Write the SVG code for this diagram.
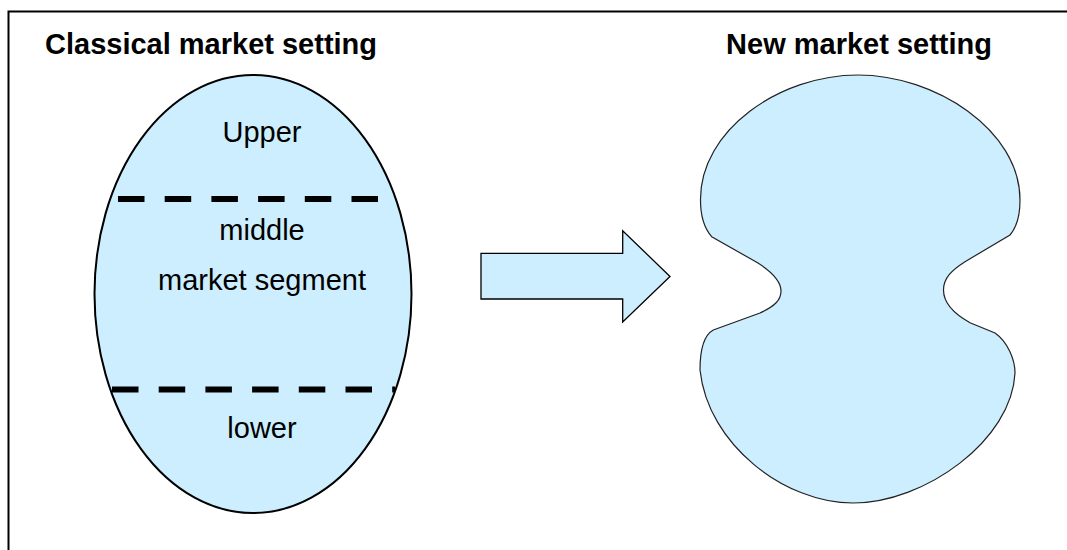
<svg xmlns="http://www.w3.org/2000/svg" width="1067" height="550" viewBox="0 0 1067 550">
<style>
.title{font-family:"Liberation Sans",Arial,sans-serif;font-weight:bold;font-size:29px;fill:#000}
.lbl{font-family:"Liberation Sans",Arial,sans-serif;font-size:29px;fill:#000;text-anchor:middle}
.fill{fill:#CCEEFF}
.dash{stroke:#000;stroke-width:6;stroke-dasharray:26.5 20.2;fill:none}
</style>
<rect x="8.5" y="11.5" width="1070" height="560" fill="#fff" stroke="#000" stroke-width="2"/>
<text class="title" x="45" y="54">Classical market setting</text>
<text class="title" x="992" y="54" text-anchor="end">New market setting</text>
<g id="classical">
<ellipse class="fill" cx="253" cy="294" rx="158.5" ry="219" stroke="#000" stroke-width="2"/>
<line class="dash" x1="118" y1="199" x2="380" y2="199"/>
<line class="dash" x1="112" y1="389.5" x2="395" y2="389.5"/>
<text class="lbl" x="262" y="141.5">Upper</text>
<text class="lbl" x="262" y="240">middle</text>
<text class="lbl" x="262" y="289.5">market segment</text>
<text class="lbl" x="262" y="438">lower</text>
</g>
<g id="connectors">
<polygon class="fill" points="481,253.3 622.7,253.3 622.7,230.7 670,276.5 622.7,322 622.7,299 481,299" stroke="#000" stroke-width="1.3"/>
</g>
<g id="new">
<path class="fill" stroke="#222" stroke-width="1.2" d="M858,75 C780,75 700,130 700.5,200 C700.5,215 704,228 711.7,236.7 L758,263 C772,272 781,282 781,291 C781,300 775,306 760,313 L713.3,330 C706,334 700,345 700,370 C708,445 785,503 853,503 C925,503 1012,440 1015,373 C1015,360 1008,342 995,333 L970,322.7 C958,316 943.5,305 943.5,290 C943.5,278 952,270 965,261.7 L1010,235 C1016,228 1020,215 1020,200 C1020,130 935,75 858,75 Z"/>
</g>
</svg>
